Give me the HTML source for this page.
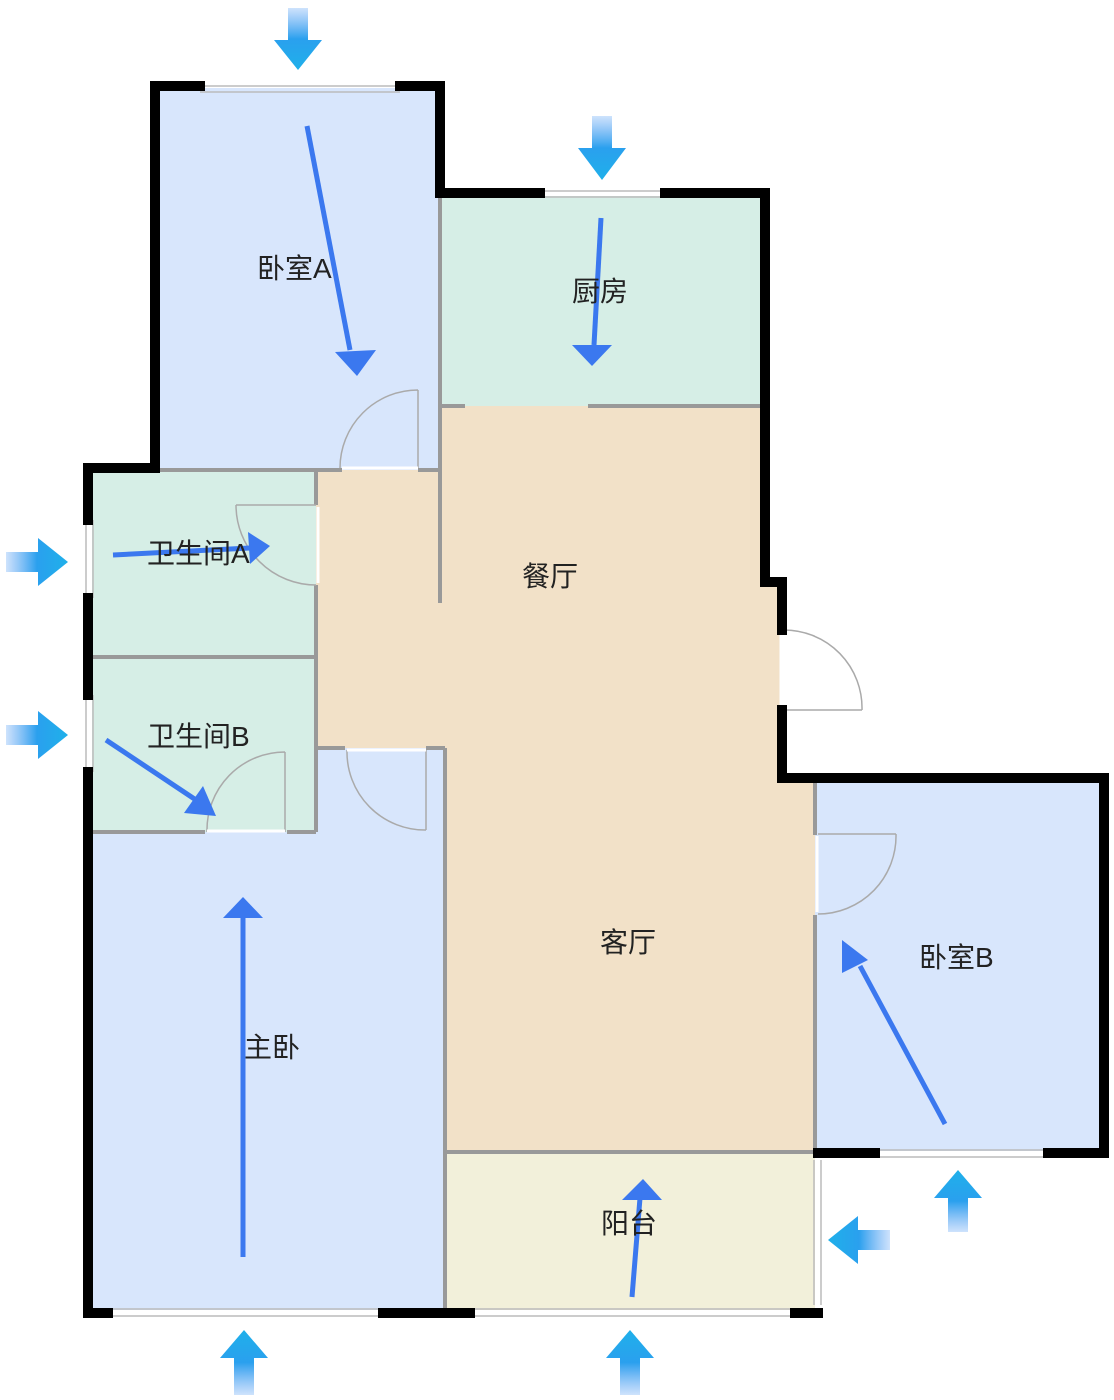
<!DOCTYPE html>
<html><head><meta charset="utf-8"><style>
html,body{margin:0;padding:0;background:#fff;}
svg{display:block}
text{font-family:"Liberation Sans","Noto Sans CJK SC",sans-serif;font-size:28px;fill:#222;}
</style></head><body>
<svg width="1114" height="1400" viewBox="0 0 1114 1400" xmlns="http://www.w3.org/2000/svg">
<defs>
<linearGradient id="gd" x1="0" y1="0" x2="0" y2="1"><stop offset="0" stop-color="#5aa0f5" stop-opacity="0.3"/><stop offset="0.5" stop-color="#2aa0ee"/><stop offset="1" stop-color="#1fb0ea"/></linearGradient>
<linearGradient id="gu" x1="0" y1="1" x2="0" y2="0"><stop offset="0" stop-color="#5aa0f5" stop-opacity="0.3"/><stop offset="0.5" stop-color="#2aa0ee"/><stop offset="1" stop-color="#1fb0ea"/></linearGradient>
<linearGradient id="gr" x1="0" y1="0" x2="1" y2="0"><stop offset="0" stop-color="#5aa0f5" stop-opacity="0.3"/><stop offset="0.5" stop-color="#2aa0ee"/><stop offset="1" stop-color="#1fb0ea"/></linearGradient>
<linearGradient id="gl" x1="1" y1="0" x2="0" y2="0"><stop offset="0" stop-color="#5aa0f5" stop-opacity="0.3"/><stop offset="0.5" stop-color="#2aa0ee"/><stop offset="1" stop-color="#1fb0ea"/></linearGradient>
</defs>
<rect x="158" y="88" width="284" height="382" fill="#d8e6fc"/>
<rect x="440" y="196" width="325" height="212" fill="#d6eee6"/>
<polygon points="316,470 440,470 440,406 765,406 765,585 780,585 780,783 815,783 815,1152 445,1152 445,748 316,748" fill="#f2e1c8"/>
<rect x="92" y="472" width="224" height="360" fill="#d6eee6"/>
<polygon points="92,832 316,832 316,748 445,748 445,1310 92,1310" fill="#d8e6fc"/>
<rect x="815" y="783" width="290" height="368" fill="#d8e6fc"/>
<rect x="445" y="1152" width="370" height="158" fill="#f2f0da"/>
<g stroke="#999" stroke-width="4" fill="none">
<line x1="440" y1="196" x2="440" y2="603"/>
<line x1="440" y1="406" x2="465" y2="406"/><line x1="588" y1="406" x2="708" y2="406"/><line x1="708" y1="406" x2="765" y2="406"/>
<line x1="158" y1="470" x2="342" y2="470"/><line x1="418" y1="470" x2="440" y2="470"/>
<line x1="316" y1="470" x2="316" y2="505"/><line x1="316" y1="585" x2="316" y2="832"/>
<line x1="92" y1="657" x2="316" y2="657"/>
<line x1="92" y1="832" x2="205" y2="832"/><line x1="287" y1="832" x2="316" y2="832"/>
<line x1="316" y1="748" x2="345" y2="748"/><line x1="426" y1="748" x2="445" y2="748"/>
<line x1="445" y1="748" x2="445" y2="1310"/>
<line x1="445" y1="1152" x2="815" y2="1152"/>
<line x1="815" y1="783" x2="815" y2="835"/><line x1="815" y1="915" x2="815" y2="1152"/>
</g>
<g stroke="#aaa" stroke-width="1.5" fill="none">
<path d="M418,390 L418,468 M418,390 A78,78 0 0 0 340,468"/>
<path d="M236,505 L316,505 M236,505 A80,80 0 0 0 316,585"/>
<path d="M285,752 L285,832 M285,752 A78,78 0 0 0 207,832"/>
<path d="M426,750 L426,830 M347,750 A78,78 0 0 0 426,830"/>
<path d="M784,710 L862,710 M784,630 A78,78 0 0 1 862,710"/>
<path d="M818,834 L896,834 M896,834 A78,78 0 0 1 818,914"/>
</g>
<g stroke="#fff" stroke-width="3"><line x1="342" y1="468" x2="418" y2="468"/><line x1="318" y1="507" x2="318" y2="583"/><line x1="207" y1="831" x2="285" y2="831"/><line x1="347" y1="750" x2="426" y2="750"/><line x1="817" y1="836" x2="817" y2="912"/><line x1="781" y1="632" x2="781" y2="708"/></g>
<g stroke="#bbb" stroke-width="1.5" fill="none">
<line x1="200" y1="86" x2="400" y2="86"/><line x1="200" y1="92" x2="400" y2="92"/>
<line x1="540" y1="191" x2="665" y2="191"/><line x1="540" y1="197" x2="665" y2="197"/>
<line x1="86" y1="520" x2="86" y2="598"/><line x1="93" y1="520" x2="93" y2="598"/>
<line x1="86" y1="695" x2="86" y2="772"/><line x1="93" y1="695" x2="93" y2="772"/>
<line x1="108" y1="1309" x2="383" y2="1309"/><line x1="108" y1="1316" x2="383" y2="1316"/>
<line x1="470" y1="1309" x2="795" y2="1309"/><line x1="470" y1="1316" x2="795" y2="1316"/>
<line x1="814" y1="1160" x2="814" y2="1305"/><line x1="821" y1="1160" x2="821" y2="1305"/>
<line x1="875" y1="1150" x2="1048" y2="1150"/><line x1="875" y1="1157" x2="1048" y2="1157"/>
</g>
<g stroke="#000" stroke-width="10" fill="none" stroke-linecap="square">
<polyline points="200,86 155,86 155,468 88,468 88,520"/>
<polyline points="400,86 440,86 440,193 540,193"/>
<polyline points="665,193 765,193 765,582 782,582 782,630"/>
<polyline points="782,710 782,778 1104,778 1104,1153 1048,1153"/>
<line x1="818" y1="1153" x2="875" y2="1153"/>
<line x1="88" y1="598" x2="88" y2="695"/>
<polyline points="88,772 88,1313 108,1313"/>
<line x1="383" y1="1313" x2="470" y2="1313"/>
<line x1="795" y1="1313" x2="818" y2="1313"/>
</g>
<g stroke="#3b78ef" stroke-width="5" fill="#3b78ef">
<line x1="307" y1="126" x2="350" y2="350"/><polygon points="335,352 376,350 357,376" stroke="none"/>
<line x1="601" y1="218" x2="594" y2="345"/><polygon points="572,345 612,345 592,366" stroke="none"/>
<line x1="113" y1="555" x2="250" y2="548"/><polygon points="248,532 270,546 250,564" stroke="none"/>
<line x1="106" y1="740" x2="196" y2="800"/><polygon points="216,816 184,813 203,786" stroke="none"/>
<line x1="243" y1="1257" x2="243" y2="915"/><polygon points="223,918 263,918 243,897" stroke="none"/>
<line x1="945" y1="1124" x2="860" y2="966"/><polygon points="842,940 868,960 842,973" stroke="none"/>
<line x1="632" y1="1297" x2="640" y2="1198"/><polygon points="622,1200 662,1200 643,1179" stroke="none"/>
</g>
<g>
<polygon points="288,8 308,8 308,40 322,40 298,70 274,40 288,40" fill="url(#gd)"/>
<polygon points="592,116 612,116 612,148 626,148 602,180 578,148 592,148" fill="url(#gd)"/>
<polygon points="6,552 38,552 38,538 68,562 38,586 38,572 6,572" fill="url(#gr)"/>
<polygon points="6,725 38,725 38,711 68,735 38,759 38,745 6,745" fill="url(#gr)"/>
<polygon points="234,1395 254,1395 254,1358 268,1358 244,1330 220,1358 234,1358" fill="url(#gu)"/>
<polygon points="620,1395 640,1395 640,1358 654,1358 630,1330 606,1358 620,1358" fill="url(#gu)"/>
<polygon points="948,1232 968,1232 968,1198 982,1198 958,1170 934,1198 948,1198" fill="url(#gu)"/>
<polygon points="890,1230 858,1230 858,1216 828,1240 858,1264 858,1250 890,1250" fill="url(#gl)"/>
</g>
<text x="257" y="278">卧室A</text>
<text x="572" y="301">厨房</text>
<text x="147" y="563">卫生间A</text>
<text x="147" y="746">卫生间B</text>
<text x="522" y="586">餐厅</text>
<text x="600" y="952">客厅</text>
<text x="919" y="967">卧室B</text>
<text x="244" y="1057">主卧</text>
<text x="601" y="1233">阳台</text>
</svg>
</body></html>
